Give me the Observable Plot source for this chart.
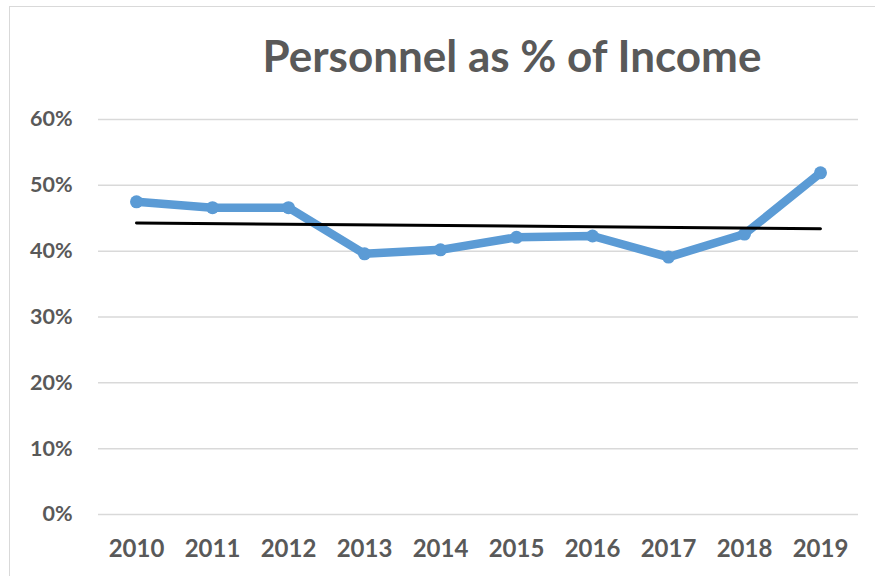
<!DOCTYPE html>
<html>
<head>
<meta charset="utf-8">
<script src="https://cdn.jsdelivr.net/npm/d3@7"></script>
<script src="https://cdn.jsdelivr.net/npm/@observablehq/plot@0.6"></script>
<style>
  html, body { margin: 0; padding: 0; background: #fff; }
  #wrap { position: relative; width: 875px; height: 576px; overflow: hidden; font-family: Lato, "Open Sans", sans-serif; }
  #frame { position: absolute; left: 9px; top: 6px; width: 900px; height: 600px; border: 1.5px solid #d9d9d9; box-sizing: border-box; }
  #title { position: absolute; left: 0; top: 33px; width: 1024px; text-align: center; font-size: 44px; font-weight: bold; color: #595959; line-height: 1; white-space: nowrap; }
  #chart { position: absolute; left: 0; top: 0; }
</style>
</head>
<body>
<div id="wrap">
  <div id="frame"></div>
  <div id="chart"></div>
  <div id="title">Personnel as % of Income</div>
</div>
<script>
const years = [2010, 2011, 2012, 2013, 2014, 2015, 2016, 2017, 2018, 2019];
const personnelPct = [47.5, 46.6, 46.6, 39.6, 40.2, 42.1, 42.3, 39.1, 42.6, 51.9];
const yTicks = [0, 10, 20, 30, 40, 50, 60];

const data = years.map((year, i) => ({year, pct: personnelPct[i]}));
const blue = "#5B9BD5";

const chart = Plot.plot({
  width: 875,
  height: 576,
  marginLeft: 98,
  marginRight: 17,
  marginTop: 119,
  marginBottom: 62,
  style: {background: "transparent", color: "#595959", fontFamily: "Lato, 'Open Sans', sans-serif"},
  x: {type: "linear", domain: [2009.5, 2019.5]},
  y: {domain: [0, 60]},
  marks: [
    Plot.gridY(yTicks, {stroke: "#d9d9d9", strokeOpacity: 1, strokeWidth: 1.5}),
    Plot.axisY(yTicks, {tickSize: 0, tickPadding: 26, tickFormat: d => d + "%", fontSize: 21.5, fontWeight: "bold", label: null}),
    Plot.axisX(years, {tickSize: 0, tickPadding: 25, tickFormat: d => String(d), fontSize: 24, fontWeight: "bold", label: null}),
    Plot.line(data, {x: "year", y: "pct", stroke: blue, strokeWidth: 8.5, strokeLinejoin: "round"}),
    Plot.dot(data, {x: "year", y: "pct", r: 6.5, fill: blue, stroke: null}),
    Plot.linearRegressionY(data, {x: "year", y: "pct", stroke: "#000", strokeWidth: 3, ci: 0})
  ]
});
document.getElementById("chart").appendChild(chart);
</script>
</body>
</html>
